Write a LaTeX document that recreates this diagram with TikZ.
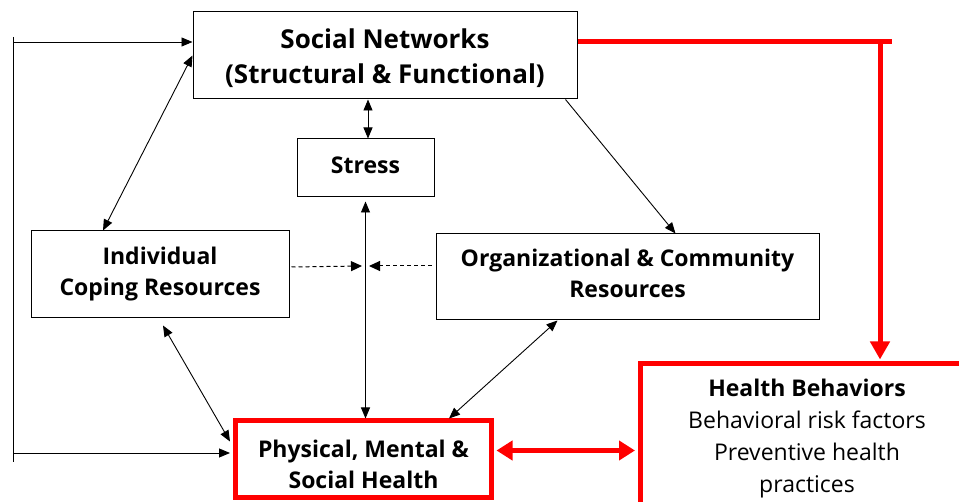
\documentclass[tikz,border=0pt]{standalone}
\usepackage{fontspec}
\setmainfont{Open Sans}
\usetikzlibrary{arrows.meta}

\tikzset{
  box/.style={draw, line width=1pt, align=center, inner sep=0pt,
    font=\bfseries\fontsize{23}{31}\selectfont},
  redbox/.style={draw=red, line width=5pt, align=center, inner sep=0pt,
    font=\fontsize{23}{32}\selectfont},
  link/.style={line width=0.9pt, -{Triangle[length=11pt,width=9pt]}},
  twolink/.style={line width=0.9pt, {Triangle[length=11pt,width=9pt]}-{Triangle[length=11pt,width=9pt]}},
  dashlink/.style={line width=1pt, dash pattern=on 4pt off 3pt, -{Triangle[length=11pt,width=10pt]}},
  redlink/.style={draw=red, line width=5pt, -{Triangle[length=18pt,width=19pt]}},
  redtwolink/.style={draw=red, line width=5pt, {Triangle[length=16pt,width=19pt]}-{Triangle[length=16pt,width=19pt]}},
}

\begin{document}
\begin{tikzpicture}[x=1pt,y=-1pt]
    \useasboundingbox (0,0) rectangle (959,502);
    \clip (0,0) rectangle (959,502);

    % boxes
    \node [box, minimum width=384pt, minimum height=87pt, font=\bfseries\fontsize{26}{35}\selectfont]
      (social) at (385,55.5) {\rule{0pt}{26pt}Social Networks\\(Structural \& Functional)};
    \node [box, minimum width=137pt, minimum height=58pt] (stress) at (365.5,168) {Stress\rule[-6pt]{0pt}{0pt}};
    \node [box, minimum width=258pt, minimum height=87pt] (indiv) at (160,274.5)
      {Individual\\Coping Resources};
    \node [box, minimum width=383pt, minimum height=86pt] (org) at (627.5,277)
      {Organizational \& Community\\Resources\rule[-8pt]{0pt}{0pt}};
    \node [redbox, minimum width=256pt, minimum height=77pt, font=\bfseries\fontsize{23}{31}\selectfont]
      (phys) at (363.5,459.5) {\rule{0pt}{28pt}Physical, Mental \&\\Social Health};
    \node [redbox, minimum width=334pt, minimum height=150pt] (behav) at (807,439)
      {\textbf{Health Behaviors}\\Behavioral risk factors\\Preventive health\\practices};

    % black links
    \draw [twolink] (368,99.5) -- (368,138.5);
    \draw [twolink] (social.west) -- ([xshift=-57pt]indiv.north);
    \draw [link] ([xshift=-12pt]social.south east) -- ([xshift=240pt]org.north west);
    \draw [twolink] ([yshift=-4pt]stress.south) -- (stress.south |- phys.north);
    \coordinate (mid) at (366,266);
    \draw [dashlink] ([yshift=7.5pt,xshift=2pt]indiv.east) -- ([xshift=-4pt]mid);
    \draw [dashlink] ([yshift=11pt,xshift=-4pt]org.west) -- ([xshift=3pt]mid);
    \draw [twolink] ([shift={(3pt,-7pt)}]indiv.south) -- ([yshift=18pt,xshift=-3pt]phys.west);
    \draw [twolink] ([xshift=-70pt]org.south) -- ([xshift=-45pt]phys.north east);

    % left feedback line
    \coordinate (top) at (13,42);
    \coordinate (bot) at (13,453);
    \draw [line width=0.9pt] (13,37) -- (13,462);
    \draw [link] (top) -- (top -| social.west);
    \draw [link, shorten >=3pt] (bot) -- (bot -| phys.west);

    % red links
    \coordinate (corner) at (880,42);
    \draw [red, line width=5pt] (social.east |- corner) -- (892,42);
    \draw [redlink, shorten >=2pt] (corner) -- (corner |- behav.north);
    \draw [redtwolink, shorten <=2.5pt, shorten >=2.5pt] ([yshift=9pt]phys.east) -- ([yshift=9pt]phys.east -| behav.west);
\end{tikzpicture}
\end{document}
